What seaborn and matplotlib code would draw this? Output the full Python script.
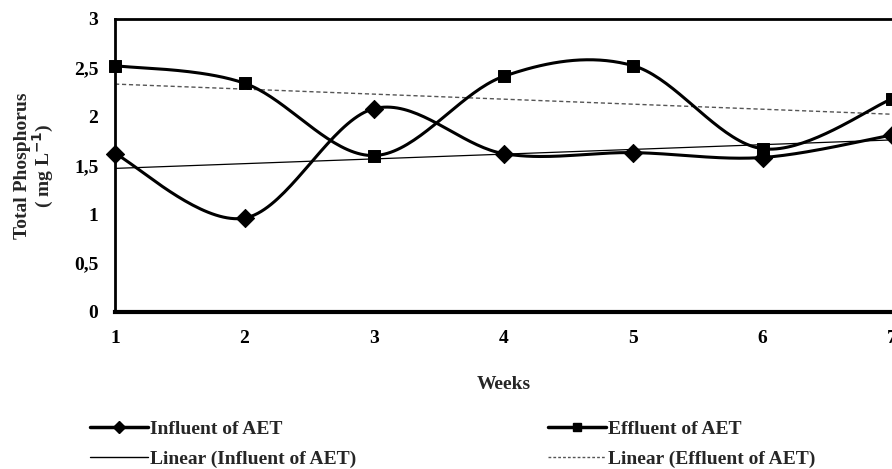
import numpy as np
import pandas as pd
import matplotlib
matplotlib.use("Agg")
import matplotlib.pyplot as plt
from matplotlib.lines import Line2D
import seaborn as sns

weeks = [1, 2, 3, 4, 5, 6, 7]
influent = [1.62, 0.96, 2.08, 1.62, 1.63, 1.58, 1.81]
effluent = [2.52, 2.34, 1.60, 2.41, 2.52, 1.67, 2.18]
y_ticks = [0, 0.5, 1, 1.5, 2, 2.5, 3]
y_tick_labels = ["0", "0,5", "1", "1,5", "2", "2,5", "3"]


def smooth(xs, ys, n=40):
    # Excel-style smoothed line (Catmull-Rom through the points)
    x = np.asarray(xs, float)
    y = np.asarray(ys, float)
    px = np.concatenate([[x[0]], x, [x[-1]]])
    py = np.concatenate([[y[0]], y, [y[-1]]])
    out_x, out_y = [], []
    t = np.linspace(0, 1, n)
    for i in range(1, len(px) - 2):
        for arr, out in ((px, out_x), (py, out_y)):
            p0, p1, p2, p3 = arr[i - 1], arr[i], arr[i + 1], arr[i + 2]
            c1 = p1 + (p2 - p0) / 6
            c2 = p2 - (p3 - p1) / 6
            b = ((1 - t) ** 3) * p1 + 3 * ((1 - t) ** 2) * t * c1 + 3 * (1 - t) * t ** 2 * c2 + t ** 3 * p2
            out.extend(b if i == 1 else b[1:])
    return np.array(out_x), np.array(out_y)


sns.set_style("white")
plt.rcParams["font.family"] = ["Liberation Serif", "DejaVu Serif"]
plt.rcParams["font.weight"] = "bold"
plt.rcParams["mathtext.default"] = "bf"

fig = plt.figure(figsize=(8.92, 4.69), dpi=100)
ax = fig.add_axes([0.129, 0.335, 0.871, 0.625])

df = pd.DataFrame({"week": weeks, "influent": influent, "effluent": effluent})

# trend lines
sns.regplot(data=df, x="week", y="influent", scatter=False, ci=None, ax=ax,
            line_kws=dict(color="black", lw=0.9))
sns.regplot(data=df, x="week", y="effluent", scatter=False, ci=None, ax=ax,
            line_kws=dict(color="#555555", lw=1.0, ls=(0, (3, 2))))

# smoothed series
for col in ["influent", "effluent"]:
    sx, sy = smooth(df["week"], df[col])
    sns.lineplot(x=sx, y=sy, sort=False, color="black", lw=2.2, ax=ax)

sns.scatterplot(data=df, x="week", y="influent", marker="D", s=85, color="black",
                edgecolor="black", ax=ax, zorder=5, clip_on=False)
sns.scatterplot(data=df, x="week", y="effluent", marker="s", s=75, color="black",
                edgecolor="black", ax=ax, zorder=5, clip_on=False)

ax.set_xlim(1, 7)
ax.set_ylim(0, 3)
ax.set_xticks(weeks)
ax.set_xticklabels([str(w) for w in weeks])
ax.set_yticks(y_ticks)
ax.set_yticklabels(y_tick_labels)
ax.tick_params(axis="both", direction="out", length=6, width=2, labelsize=14,
               colors="black", pad=6)
ax.tick_params(axis="x", length=5, pad=8)
for side in ["left", "top"]:
    ax.spines[side].set_linewidth(2)
    ax.spines[side].set_color("black")
ax.spines["bottom"].set_linewidth(3)
ax.spines["bottom"].set_color("black")
ax.spines["right"].set_visible(False)

ax.set_xlabel("Weeks", fontsize=14, fontweight="bold", labelpad=21)
ax.set_ylabel("Total Phosphorus\n( mg L$^{-1}$)", fontsize=14, fontweight="bold",
              labelpad=13, linespacing=1.0)

col1 = [Line2D([], [], color="black", lw=2.5, marker="D", markersize=6),
        Line2D([], [], color="black", lw=1)]
col2 = [Line2D([], [], color="black", lw=2.5, marker="s", markersize=6),
        Line2D([], [], color="#555555", lw=1, ls=(0, (2, 1.5)))]
labels1 = ["Influent of AET", "Linear (Influent of AET)"]
labels2 = ["Effluent of AET", "Linear (Effluent of AET)"]
for hs, ls, x0 in ((col1, labels1, 90 / 892), (col2, labels2, 548 / 892)):
    fig.legend(hs, ls, frameon=False, fontsize=14, loc="center left",
               bbox_to_anchor=(x0, 0.053), borderpad=0, borderaxespad=0,
               handlelength=3.0, handletextpad=0.1, labelspacing=0.65)

fig.savefig("out.png", dpi=100)
